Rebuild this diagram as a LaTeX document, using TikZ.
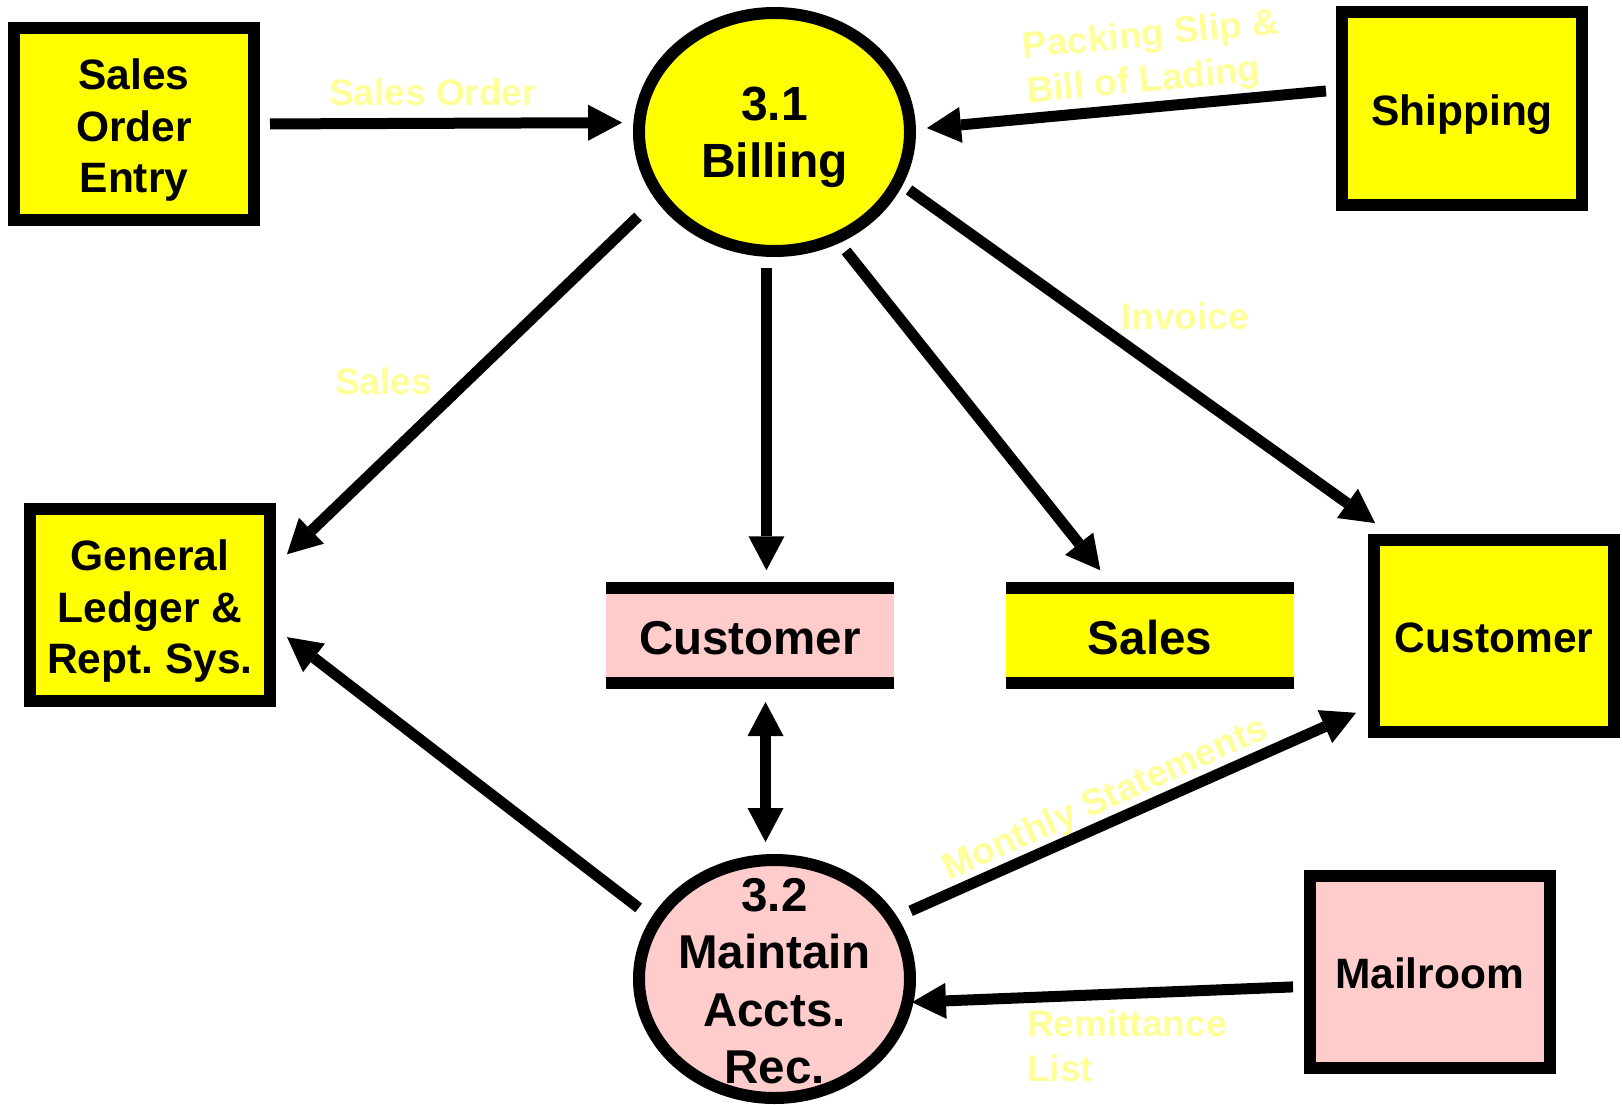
\documentclass[tikz,border=0pt]{standalone}
\usepackage{fontspec}
\setmainfont{Liberation Sans}
\usetikzlibrary{arrows.meta,shapes.geometric}

\definecolor{procyellow}{HTML}{FFFF00}
\definecolor{procpink}{HTML}{FFCCCC}
\definecolor{labelyellow}{HTML}{FFFF99}

\frenchspacing
\newcommand\dfdboxfont{\bfseries\fontsize{42.5}{51.5}\selectfont}
\newcommand\dfdbigfont{\bfseries\fontsize{48}{57}\selectfont}
\newcommand\dfdstorefont{\bfseries\fontsize{47.5}{57}\selectfont}
\newcommand\dfdprocfont{\bfseries\fontsize{47.5}{57.5}\selectfont}
\newcommand\dfdlabelfont{\bfseries\fontsize{37}{45}\selectfont}
% line-box strut so text sits on its line box rather than on its ink
\newcommand\dfdstrut{\vrule width 0pt height 1.02em depth 0.21em\relax}

\begin{document}
\begin{tikzpicture}[x=1pt,y=-1pt,
  entity/.style={rectangle, draw, line width=12pt, minimum width=240pt,
    minimum height=192pt, inner sep=0pt, outer sep=0pt, align=center,
    font=\dfdboxfont},
  process/.style={ellipse, draw, line width=12pt, minimum width=271pt,
    minimum height=238pt, inner sep=0pt, outer sep=0pt},
  proctext/.style={align=center, inner sep=0pt, font=\dfdprocfont},
  datastore/.style={rectangle, minimum width=288pt, minimum height=95.5pt,
    inner sep=0pt, outer sep=0pt, font=\dfdstorefont},
  storeline/.style={line width=12pt},
  flow/.style={line width=11pt,
    -{Triangle[length=34pt,width=36pt,line width=0pt]}},
  flowboth/.style={line width=11pt,
    {Triangle[length=34pt,width=36pt,line width=0pt]}-{Triangle[length=34pt,width=36pt,line width=0pt]}},
  flowlabel/.style={text=labelyellow, font=\dfdlabelfont, inner sep=0pt,
    align=left},
]
\useasboundingbox (0,0) rectangle (1623,1105);

% external entities
\node[entity, fill=procyellow] (soe)   at (134,124)      {\dfdstrut Sales\\Order\\Entry};
\node[entity, fill=procyellow] (ship)  at (1462,108.5)   {\dfdstrut Shipping};
\node[entity, fill=procyellow] (gl)    at (150,605)      {\dfdstrut General\\Ledger \&\\Rept. Sys.};
\node[entity, fill=procyellow] (custx) at (1494,635.5)   {\dfdstrut Customer};
\node[entity, fill=procpink]   (mail)  at (1429.5,971.5) {\dfdstrut Mailroom};

% processes
\node[process, fill=procyellow] (bill) at (774.5,132) {};
\node[proctext, font=\dfdbigfont] (bill-t) at (774.5,137.5) {3.1\\Billing};
\node[process, fill=procpink] (maint) at (774.5,979) {};
\node[proctext] (maint-t) at (774.5,981) {3.2\\Maintain\\Accts.\\Rec.};

% data stores
\node[datastore, fill=procpink]   (custs) at (750,635.25)  {\dfdstrut Customer};
\node[datastore, fill=procyellow] (sales) at (1150,635.25) {\dfdstrut Sales};
\foreach \s in {custs,sales}{
  \draw[storeline] (\s.north west) -- (\s.north east);
  \draw[storeline] (\s.south west) -- (\s.south east);
}

% data flows
\draw[flow, shorten <=16pt,   shorten >=17.3pt]  (soe.east)    -- (bill.176.6);
\draw[flow, shorten <=16.1pt, shorten >=17.1pt]  (ship.171.5)  -- (bill.1.5);
\draw[flow, shorten <=30.4pt, shorten >=23.5pt]  (bill.209.8)  -- (gl.16.2);
\draw[flow, shorten <=17.2pt, shorten >=17.25pt] (bill.265.9 -| custs.71.5) -- (custs.71.5);
\draw[flow, shorten <=16.4pt, shorten >=22pt]    (bill.300)    -- (sales.127.85);
\draw[flow, shorten <=14.1pt, shorten >=28.15pt] (bill.338.95) -- (custx.135.65);
\draw[flowboth, shorten <=19pt, shorten >=18.2pt] (custs.288.5) -- (maint.94.09 -| custs.288.5);
\draw[flow, shorten <=21.9pt, shorten >=21.5pt]  (maint.154.6) -- (gl.351.56);
\draw[flow, shorten <=20.7pt, shorten >=19.7pt]  (maint.27.5)  -- (custx.210.47);
\draw[flow, shorten <=16.5pt, shorten >=4.6pt]   (mail.187.55) -- (maint.350.1);

% flow labels
\node[flowlabel] (l-so)    at (433,92)    {Sales Order};
\node[flowlabel] (l-sales) at (383.5,381) {Sales};
\node[flowlabel] (l-inv)   at (1185,316)  {Invoice};
\node[flowlabel, rotate=5.5] (l-pack) at (1153,59) {Packing Slip \&\\Bill of Lading};
\node[flowlabel, rotate=24]  (l-month) at (1106,800) {Monthly Statements};
\node[flowlabel, anchor=west] (l-remit) at (1027,1046) {Remittance\\List};
\end{tikzpicture}
\end{document}
